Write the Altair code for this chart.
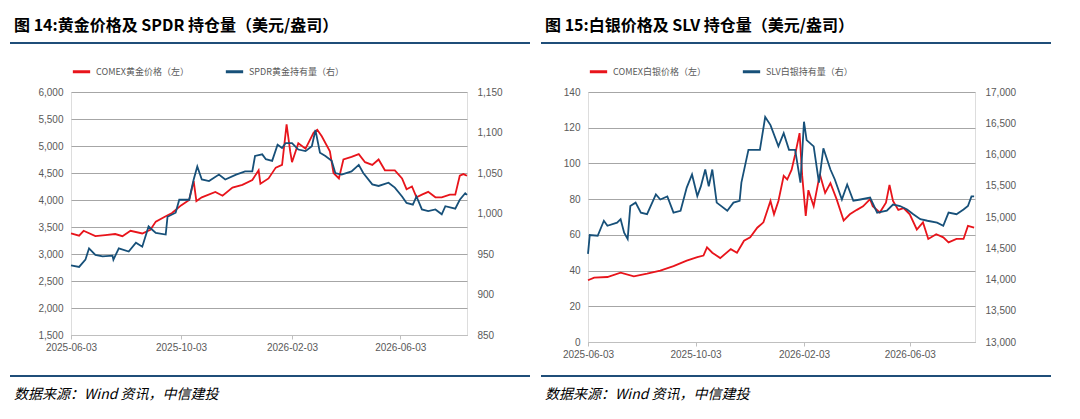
import altair as alt
import pandas as pd

BASE = pd.Timestamp("2025-06-03")

gold_days = [0,9,14,27,38,49,57,66,79,88,94,105,112,122,131,136,139,145,160,168,179,190,201,208,210,219,227,234,239,243,245,252,260,269,273,278,287,291,297,302,311,319,326,334,341,348,359,367,372,378,383,389,396,404,411,420,426,431,435,439]
gold_price = [3380,3340,3430,3330,3350,3370,3330,3430,3380,3450,3600,3700,3760,3900,4000,4350,3980,4050,4150,4080,4230,4280,4370,4550,4300,4400,4600,4650,5400,4900,4700,5050,4950,5250,5300,5180,4900,4500,4400,4750,4800,4850,4700,4650,4750,4550,4550,4400,4200,4250,4050,4100,4150,4050,4050,4100,4100,4450,4480,4450]

spdr_days = [0,9,16,20,27,35,46,47,53,64,72,79,86,94,105,107,116,120,131,136,140,145,153,164,171,183,193,201,204,212,216,223,229,234,238,245,252,260,267,271,276,282,289,293,300,311,319,324,334,341,352,359,367,372,379,383,389,396,404,411,415,426,431,437,439]
spdr_hold = [936,934,943,957,949,947,948,943,957,953,964,959,984,976,974,996,1001,1017,1017,1042,1058,1042,1040,1048,1042,1048,1052,1052,1071,1073,1067,1065,1085,1081,1087,1087,1079,1077,1083,1103,1075,1071,1065,1050,1048,1052,1060,1050,1036,1034,1038,1032,1021,1013,1011,1021,1005,1003,1005,999,1009,1006,1017,1025,1023]

silver_days = [0,7,22,37,52,67,82,97,112,124,131,135,141,150,162,169,177,184,192,199,207,211,216,222,226,231,235,240,243,247,250,256,263,269,275,282,290,297,305,312,320,323,331,338,342,346,352,358,365,373,380,386,395,403,409,418,426,431,438]
silver_price = [34.6,36,36.4,38.8,36.8,38.3,40,42.5,45.6,47.5,48.4,53,50,47,52,50,56.7,58.6,64,67,79,71.5,79,93,91,96.5,105,117,93,70.6,85,76,94,83.5,89,80,68,71.5,74,76,80,76,72.5,78,88,79,74,75,71.5,63,67,57.7,60.4,58.6,55.8,57.7,57.7,65,64]

slv_days = [0,2,11,18,22,33,37,41,45,48,54,60,67,77,82,90,97,105,112,118,124,128,133,137,141,146,158,165,172,174,182,188,195,201,207,216,222,228,235,241,245,248,256,262,267,275,280,288,294,301,309,320,328,339,346,354,362,369,377,385,396,403,409,418,426,431,435,438]
slv_hold = [14410,14712,14700,14940,14860,14910,14965,14750,14650,15175,15230,15070,15045,15360,15280,15330,15070,15100,15470,15680,15335,15490,15760,15490,15760,15230,15100,15230,15260,15550,16075,16075,16075,16600,16470,16130,16340,16075,16075,15550,16525,16230,16130,15550,16100,15760,15600,15280,15520,15260,15280,15310,15070,15100,15200,15175,15120,15045,14965,14940,14910,14860,15070,15045,15120,15175,15330,15330]

x_ticks = ["2025-06-03", "2025-10-03", "2026-02-03", "2026-06-03"]
RED = "#e8141b"
BLUE = "#175079"
NAVY = "#1f4e79"
GRAY = "#595959"
FONT = "Liberation Sans"
CJK = "Noto Sans CJK SC"


def df(days, vals, name):
    return pd.DataFrame({"date": [BASE + pd.Timedelta(days=d) for d in days], "v": vals, "s": name})


def panel(pdays, pvals, hdays, hvals, pname, hname, ldom, lstep, rdom, rstep, w, h, title, tx, rl, off):
    t_y, r_top, r_bot, f_y = off
    xenc = alt.X("date:T", title=None,
                 scale=alt.Scale(domain=["2025-06-03", "2026-08-16"]),
                 axis=alt.Axis(values=x_ticks, format="%Y-%m-%d", grid=False, labelColor=GRAY,
                               labelFont=FONT, labelFontSize=10, domainColor="#bfbfbf",
                               tickColor="#bfbfbf", tickSize=4, labelAlign="center", labelPadding=3))
    color = alt.Color("s:N", scale=alt.Scale(domain=[pname, hname], range=[RED, BLUE]),
                      legend=alt.Legend(title=None, orient="top", direction="horizontal",
                                        labelFont=CJK, labelFontSize=9, labelColor=GRAY,
                                        symbolType="stroke", symbolStrokeWidth=3, symbolSize=300,
                                        columnPadding=30, offset=14))
    lt = list(range(ldom[0], ldom[1] + 1, lstep))
    left = alt.Chart(df(pdays, pvals, pname)).mark_line(strokeWidth=1.8).encode(
        x=xenc,
        y=alt.Y("v:Q", title=None, scale=alt.Scale(domain=ldom, nice=False),
                axis=alt.Axis(values=lt, format=",.0f", labelColor=GRAY, labelFont=FONT, labelFontSize=10,
                              domain=False, ticks=False, gridColor="#a6a6a6", gridWidth=1, labelPadding=8)),
        color=color)
    rt = list(range(rdom[0], rdom[1] + 1, rstep))
    right = alt.Chart(df(hdays, hvals, hname)).mark_line(strokeWidth=1.8).encode(
        x=xenc,
        y=alt.Y("v:Q", title=None, scale=alt.Scale(domain=rdom, nice=False),
                axis=alt.Axis(orient="right", values=rt, format=",.0f", labelColor=GRAY, labelFont=FONT,
                              labelFontSize=10, domain=False, ticks=False, grid=False, labelPadding=10)),
        color=color)
    deco = pd.DataFrame({"a": [0]})
    top_rule = alt.Chart(deco).mark_rule(color=NAVY, strokeWidth=2).encode(
        x=alt.value(tx), x2=alt.value(tx + rl), y=alt.value(r_top))
    bot_rule = alt.Chart(deco).mark_rule(color=NAVY, strokeWidth=2).encode(
        x=alt.value(tx), x2=alt.value(tx + rl), y=alt.value(h + r_bot))
    ttl = alt.Chart(deco).mark_text(text=title, align="left", baseline="middle", font=CJK,
                                    fontSize=16, fontWeight="bold", color="#000000").encode(
        x=alt.value(tx + 4), y=alt.value(t_y))
    foot = alt.Chart(deco).mark_text(text="数据来源：Wind 资讯，中信建投", align="left", baseline="middle",
                                     font=CJK, fontSize=14, fontStyle="italic", color="#000000").encode(
        x=alt.value(tx + 4), y=alt.value(h + f_y))
    return alt.layer(left, right, top_rule, bot_rule, ttl, foot).resolve_scale(y="independent").properties(
        width=w, height=h)


p1 = panel(gold_days, gold_price, spdr_days, spdr_hold, "COMEX黄金价格（左）", "SPDR黄金持有量（右）",
           [1500, 6000], 500, [850, 1150], 50, 396, 243, "图 14:黄金价格及 SPDR 持仓量（美元/盎司）",
           -61, 520, (-66, -49, 41, 60))
p2 = panel(silver_days, silver_price, slv_days, slv_hold, "COMEX白银价格（左）", "SLV白银持有量（右）",
           [0, 140], 20, [13000, 17000], 500, 387, 250, "图 15:白银价格及 SLV 持仓量（美元/盎司）",
           -47, 510, (-66, -49, 34, 53))

chart = alt.hconcat(p1, p2, spacing=7).resolve_scale(color="independent").configure_view(
    stroke=None).configure(background="white", padding={"top": 9, "left": 0, "right": 0, "bottom": 0})

chart.save("out.html", embed_options={"renderer": "svg", "actions": False})
